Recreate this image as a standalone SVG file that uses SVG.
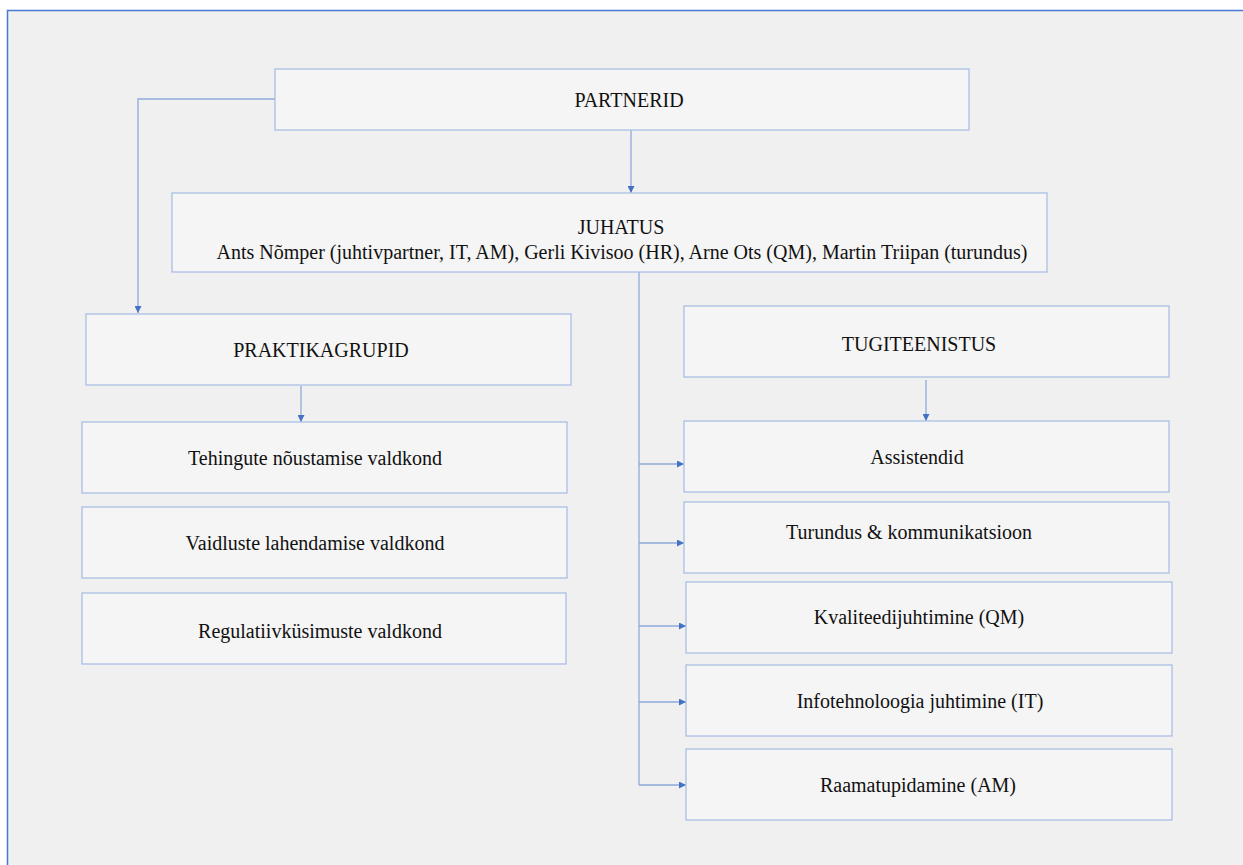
<svg xmlns="http://www.w3.org/2000/svg" width="1243" height="865" viewBox="0 0 1243 865">
  <style>
    .box { fill: #f5f5f5; stroke: #a9bfe6; stroke-width: 1.3; }
    .lbl { font-family: "Liberation Serif", "Times New Roman", serif; font-size: 20px; fill: #111111; text-anchor: middle; }
    .wire { fill: none; stroke: #8faadc; stroke-width: 1.3; }
  </style>
  <defs>
    <marker id="arr" viewBox="0 0 10 10" refX="10" refY="5" markerWidth="7" markerHeight="7" markerUnits="userSpaceOnUse" orient="auto">
      <path d="M0,0 L10,5 L0,10 z" fill="#4472c4"/>
    </marker>
  </defs>

  <rect x="0" y="0" width="1243" height="865" fill="#ffffff"/>
  <!-- page frame -->
  <rect x="7.5" y="10.5" width="1250" height="870" fill="#f0f0f0" stroke="#4a78d6" stroke-width="1.5"/>

  <!-- connectors -->
  <g id="connectors">
    <path class="wire" d="M631,130 V193" marker-end="url(#arr)"/>
    <path class="wire" d="M275,99 H138 V313" marker-end="url(#arr)"/>
    <path class="wire" d="M301,386 V422" marker-end="url(#arr)"/>
    <path class="wire" d="M926,380 V421" marker-end="url(#arr)"/>
    <path class="wire" d="M639,272 V785"/>
    <path class="wire" d="M639,464 H684" marker-end="url(#arr)"/>
    <path class="wire" d="M639,543 H684" marker-end="url(#arr)"/>
    <path class="wire" d="M639,626 H686" marker-end="url(#arr)"/>
    <path class="wire" d="M639,702 H686" marker-end="url(#arr)"/>
    <path class="wire" d="M639,785 H686" marker-end="url(#arr)"/>
  </g>

  <g id="partnerid">
    <rect class="box" x="275" y="69" width="694" height="61"/>
    <text class="lbl" x="629" y="107">PARTNERID</text>
  </g>

  <g id="juhatus">
    <rect class="box" x="172" y="193" width="875" height="79"/>
    <text class="lbl" x="621" y="234">JUHATUS</text>
    <text class="lbl" x="622" y="259">Ants Nõmper (juhtivpartner, IT, AM), Gerli Kivisoo (HR), Arne Ots (QM), Martin Triipan (turundus)</text>
  </g>

  <g id="praktikagrupid">
    <rect class="box" x="86" y="314" width="485" height="71"/>
    <text class="lbl" x="321" y="357">PRAKTIKAGRUPID</text>
  </g>

  <g id="tehingute">
    <rect class="box" x="82" y="422" width="485" height="71"/>
    <text class="lbl" x="315" y="465">Tehingute nõustamise valdkond</text>
  </g>

  <g id="vaidluste">
    <rect class="box" x="82" y="507" width="485" height="71"/>
    <text class="lbl" x="315" y="550">Vaidluste lahendamise valdkond</text>
  </g>

  <g id="regulatiiv">
    <rect class="box" x="82" y="593" width="484" height="71"/>
    <text class="lbl" x="320" y="638">Regulatiivküsimuste valdkond</text>
  </g>

  <g id="tugiteenistus">
    <rect class="box" x="684" y="306" width="485" height="71"/>
    <text class="lbl" x="919" y="351">TUGITEENISTUS</text>
  </g>

  <g id="assistendid">
    <rect class="box" x="684" y="421" width="485" height="71"/>
    <text class="lbl" x="917" y="464">Assistendid</text>
  </g>

  <g id="turundus">
    <rect class="box" x="684" y="502" width="485" height="71"/>
    <text class="lbl" x="909" y="539">Turundus &amp; kommunikatsioon</text>
  </g>

  <g id="kvaliteet">
    <rect class="box" x="686" y="582" width="486" height="71"/>
    <text class="lbl" x="919" y="624">Kvaliteedijuhtimine (QM)</text>
  </g>

  <g id="infotehnoloogia">
    <rect class="box" x="686" y="665" width="486" height="71"/>
    <text class="lbl" x="920" y="708">Infotehnoloogia juhtimine (IT)</text>
  </g>

  <g id="raamatupidamine">
    <rect class="box" x="686" y="749" width="486" height="71"/>
    <text class="lbl" x="918" y="792">Raamatupidamine (AM)</text>
  </g>
</svg>
